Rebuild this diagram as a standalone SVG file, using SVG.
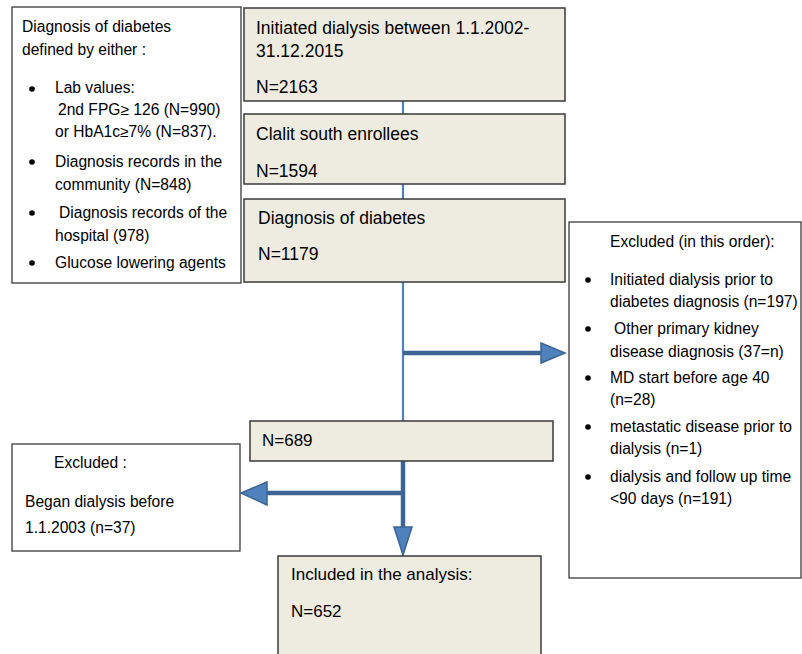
<svg xmlns="http://www.w3.org/2000/svg" width="802" height="654" viewBox="0 0 802 654">
<style>
.wbox{fill:#ffffff;stroke:#3a3a3a;stroke-width:1.3}
.bbox{fill:#EEECE1;stroke:#3a3a3a;stroke-width:1.5}
text{font-family:"Liberation Sans",Arial,sans-serif;font-size:15.6px;fill:#000}
.big{font-size:17.5px}
.mid{font-size:17px}
.thin{stroke:#4F81BD;stroke-width:2.2;fill:none}
.thick{stroke:#3C6494;stroke-width:4.5;fill:none}
.head{fill:#4F81BD;stroke:#3C6494;stroke-width:1.5;stroke-linejoin:miter}
.dot{fill:#000}
</style>
<rect width="802" height="654" fill="#ffffff"/>
<g id="connectors">
<line class="thin" x1="403" y1="101" x2="403" y2="114"/>
<line class="thin" x1="403" y1="184" x2="403" y2="199"/>
<line class="thin" x1="403" y1="282" x2="403" y2="421"/>
<line class="thick" x1="403" y1="353" x2="543" y2="353"/>
<polygon class="head" points="541,343 565,353 541,363"/>
<line class="thick" x1="403" y1="461" x2="403" y2="528"/>
<polygon class="head" points="394,527 412,527 403,555"/>
<line class="thick" x1="403" y1="493" x2="265" y2="493"/>
<polygon class="head" points="267,482 267,505 241,493"/>
</g>
<g id="criteria">
<rect class="wbox" x="12" y="7" width="229" height="276"/>
<text x="22" y="32">Diagnosis of diabetes</text>
<text x="22" y="55">defined by either :</text>
<circle class="dot" cx="32" cy="89" r="2.8"/>
<text x="55" y="93">Lab values:</text>
<text x="58" y="115">2nd FPG≥ 126 (N=990)</text>
<text x="55" y="137">or HbA1c≥7% (N=837).</text>
<circle class="dot" cx="32" cy="162" r="2.8"/>
<text x="55" y="167">Diagnosis records in the</text>
<text x="55" y="190">community (N=848)</text>
<circle class="dot" cx="32" cy="213" r="2.8"/>
<text x="59" y="218">Diagnosis records of the</text>
<text x="55" y="241">hospital (978)</text>
<circle class="dot" cx="32" cy="263" r="2.8"/>
<text x="55" y="268">Glucose lowering agents</text>
</g>
<g id="initiated">
<rect class="bbox" x="244" y="8" width="321" height="93"/>
<text class="big" x="256" y="34">Initiated dialysis between 1.1.2002-</text>
<text class="big" x="256" y="57">31.12.2015</text>
<text class="big" x="256" y="93">N=2163</text>
</g>
<g id="clalit">
<rect class="bbox" x="244" y="114" width="321" height="70"/>
<text class="big" x="256" y="140">Clalit south enrollees</text>
<text class="big" x="256" y="177">N=1594</text>
</g>
<g id="diagnosis">
<rect class="bbox" x="244" y="199" width="321" height="83"/>
<text class="big" x="258" y="224">Diagnosis of diabetes</text>
<text class="big" x="258" y="260">N=1179</text>
</g>
<g id="excluded-right">
<rect class="wbox" x="569" y="222" width="232" height="356"/>
<text x="610" y="247">Excluded (in this order):</text>
<circle class="dot" cx="588" cy="280" r="2.8"/>
<text x="610" y="285">Initiated dialysis prior to</text>
<text x="610" y="307">diabetes diagnosis (n=197)</text>
<circle class="dot" cx="588" cy="329" r="2.8"/>
<text x="614" y="334">Other primary kidney</text>
<text x="610" y="357">disease diagnosis (37=n)</text>
<circle class="dot" cx="588" cy="378" r="2.8"/>
<text x="610" y="383">MD start before age 40</text>
<text x="610" y="405">(n=28)</text>
<circle class="dot" cx="588" cy="427" r="2.8"/>
<text x="610" y="432">metastatic disease prior to</text>
<text x="610" y="454">dialysis (n=1)</text>
<circle class="dot" cx="588" cy="477" r="2.8"/>
<text x="610" y="482">dialysis and follow up time</text>
<text x="610" y="504">&lt;90 days (n=191)</text>
</g>
<g id="n689">
<rect class="bbox" x="250" y="421" width="303" height="40"/>
<text class="mid" x="262" y="446">N=689</text>
</g>
<g id="excluded-left">
<rect class="wbox" x="12" y="444" width="228" height="107"/>
<text x="54" y="468">Excluded :</text>
<text x="25" y="507">Began dialysis before</text>
<text x="25" y="533">1.1.2003 (n=37)</text>
</g>
<g id="included">
<rect class="bbox" x="278" y="556" width="263" height="110"/>
<text class="mid" x="291" y="580">Included in the analysis:</text>
<text class="mid" x="291" y="617">N=652</text>
</g>
</svg>
